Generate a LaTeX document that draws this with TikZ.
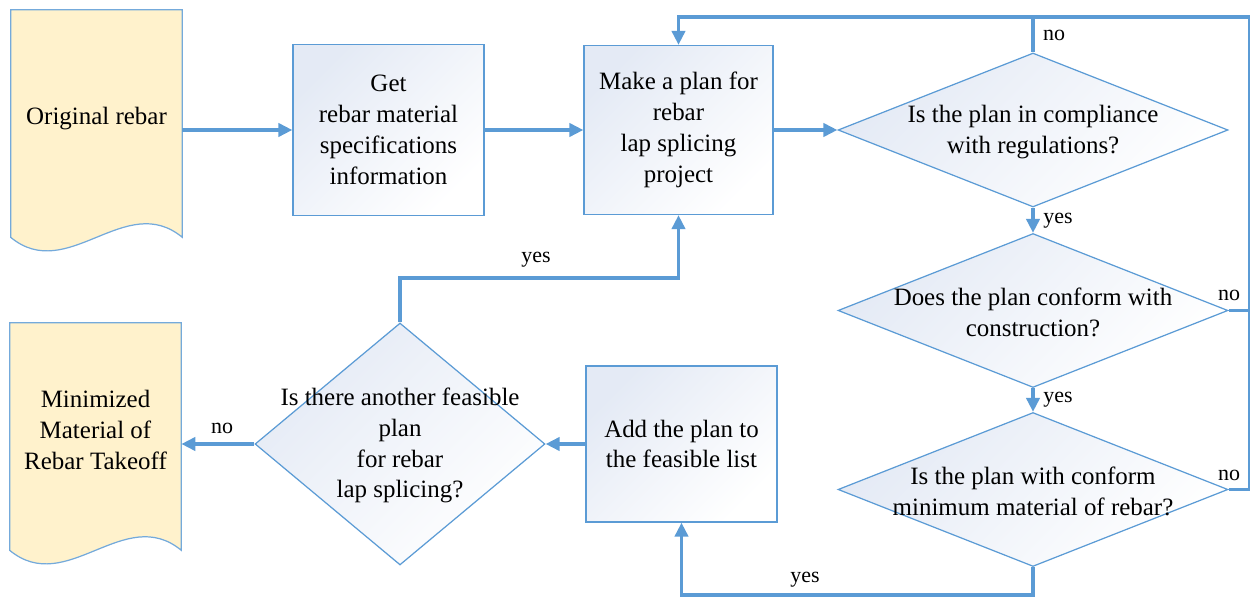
\documentclass[tikz,border=0pt]{standalone}
\usepackage{fontspec}
\setmainfont{Liberation Serif}
\usetikzlibrary{shapes.geometric,arrows.meta}
\definecolor{flowblue}{HTML}{5B9BD5}
\definecolor{docfill}{HTML}{FFF2CC}
\definecolor{boxshade}{HTML}{E4EAF5}
\tikzset{
  bigtext/.style={font=\fontsize{14.2}{17.6}\selectfont},
  process/.style={rectangle, draw=flowblue, line width=0.7pt, top color=boxshade,
    bottom color=white, shading angle=45, minimum width=3.82cm, minimum height=3.42cm,
    align=center, bigtext},
  decision/.style={diamond, draw=flowblue, line width=0.7pt, top color=boxshade,
    bottom color=white, shading angle=45, inner sep=0pt, minimum width=7.8cm,
    minimum height=3.08cm},
  docarea/.style={rectangle, inner sep=0pt, minimum width=3.42cm, minimum height=4.54cm},
  docline/.style={draw=flowblue!85, line width=0.7pt, fill=docfill},
  flow/.style={draw=flowblue, line width=2pt, -{Triangle[length=8pt,width=7.5pt]}},
  link/.style={draw=flowblue, line width=2pt},
  tag/.style={font=\fontsize{12.5}{14}\selectfont, inner sep=1pt},
}
\begin{document}
\begin{tikzpicture}[x=0.02cm, y=-0.02cm]
  \useasboundingbox (0,0) rectangle (1250,597);

  % documents (input and output)
  \node[docarea] (orig) at (96.5,123.5) {};
  \draw[docline] (orig.south west) -- (orig.north west) -- (orig.north east) -- (orig.south east)
    .. controls +(-57,-47) and +(57,47) .. (orig.south west) -- cycle;
  \node[bigtext] (origtext) at (96.5,119) {Original rebar};

  \node[docarea] (result) at (95.5,436.5) {};
  \draw[docline] (result.south west) -- (result.north west) -- (result.north east) -- (result.south east)
    .. controls +(-57,-47) and +(57,47) .. (result.south west) -- cycle;
  \node[bigtext, align=center] (resulttext) at (95.5,430) {Minimized\\Material of\\Rebar Takeoff};

  % process boxes
  \node[process] (get) at (388.5,130) {Get\\rebar material\\specifications\\information};
  \node[process, minimum width=3.78cm, minimum height=3.38cm] (make) at (678.5,130)
    {Make a plan for\\rebar\\lap splicing\\project};
  \node[process, minimum height=3.12cm] (add) at (681.5,444) {Add the plan to\\the feasible list};

  % decisions
  \node[decision, label={[bigtext, align=center, yshift=-0.05cm]center:Is the plan in compliance\\with regulations?}]
    (comply) at (1033,130) {};
  \node[decision, label={[bigtext, align=center, yshift=-0.03cm]center:Does the plan conform with\\construction?}]
    (build) at (1033,310.5) {};
  \node[decision, label={[bigtext, align=center, yshift=-0.03cm]center:Is the plan with conform\\minimum material of rebar?}]
    (minimum) at (1033,489.5) {};
  \node[decision, minimum width=5.8cm, minimum height=4.84cm,
    label={[bigtext, align=center, yshift=-0.03cm]center:Is there another feasible\\plan\\for rebar\\lap splicing?}]
    (another) at (400,444) {};

  % helper points
  \coordinate (rt) at (1250,17);
  \coordinate (bot) at (0,595);
  \coordinate (mid) at (0,278);

  % main line
  \draw[flow] (orig.east |- get.west) -- (get.west);
  \draw[flow] (get.east) -- (make.west);
  \draw[flow] (make.east) -- (comply.west);
  \draw[flow] (comply.south) -- (build.north);
  \draw[flow] (build.south) -- (minimum.north);
  \draw[flow] (minimum.south) -- (minimum.south |- bot) -| (add.south);
  \draw[flow] (add.west) -- (another.east);
  \draw[flow] (another.west) -- (another.west -| result.east);
  \draw[flow] (another.north) -- (another.north |- mid) -| (make.south);

  % "no" loops back to the plan
  \draw[flow] (comply.north) -- (comply.north |- rt) -| (make.north);
  \draw[link] (comply.north |- rt) -- (rt) -- (rt |- minimum.east);
  \draw[link] (build.east) -- (build.east -| rt);
  \draw[link] (minimum.east) -- (minimum.east -| rt);

  % labels
  \node[tag] (no1) at (1054,35) {no};
  \node[tag] (yes1) at (1058,221) {yes};
  \node[tag] (no2) at (1229,295) {no};
  \node[tag] (yes2) at (1058,400) {yes};
  \node[tag] (no3) at (1229,475) {no};
  \node[tag] (yes3) at (805,580) {yes};
  \node[tag] (yes4) at (536,260) {yes};
  \node[tag] (no4) at (222,428) {no};
\end{tikzpicture}
\end{document}
